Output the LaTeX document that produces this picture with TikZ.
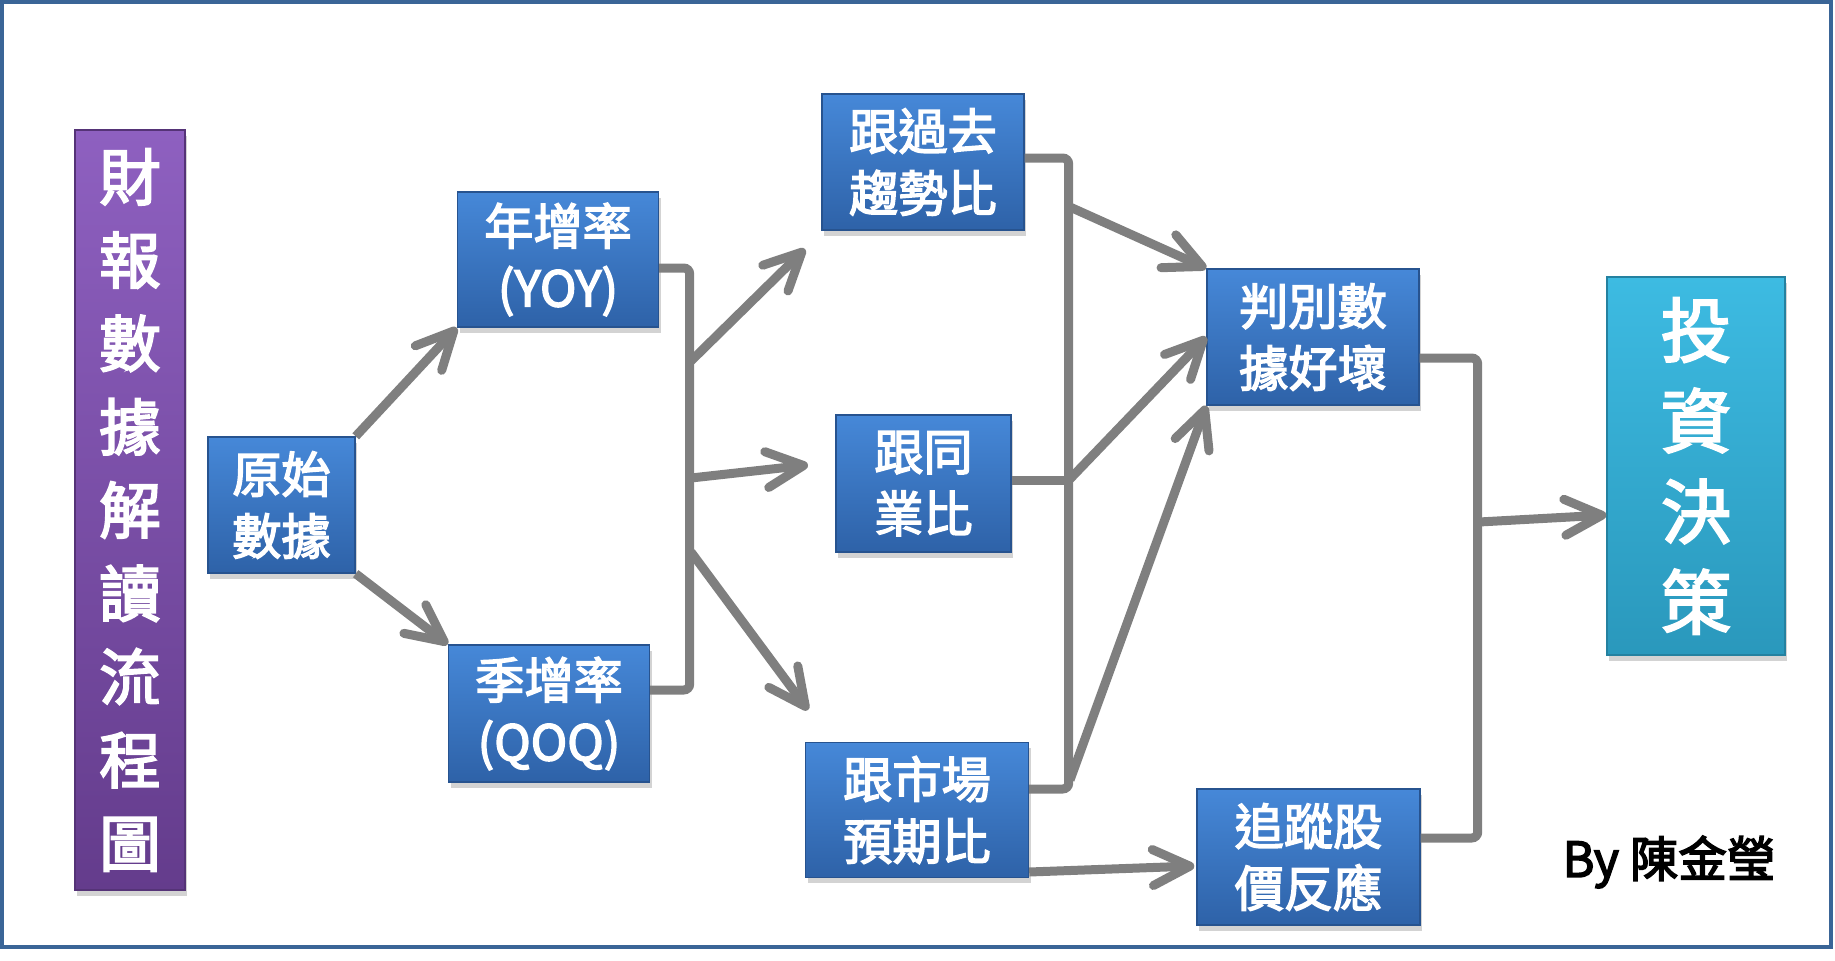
\documentclass[tikz,border=0pt]{standalone}
\usepackage{fontspec}
\newfontfamily\cjkfont[FakeBold=3]{Noto Sans CJK TC}
\usepackage{tikz}
\usetikzlibrary{arrows.meta,shadows}
\definecolor{framecol}{HTML}{3A6597}
\definecolor{linegray}{HTML}{7F7F7F}
\definecolor{bluetop}{HTML}{4688D8}
\definecolor{bluebot}{HTML}{2E62A8}
\definecolor{purptop}{HTML}{8E60C0}
\definecolor{purpbot}{HTML}{643C8C}
\definecolor{cyantop}{HTML}{3DBBE2}
\definecolor{cyanbot}{HTML}{2A98BC}

\begin{document}
\begin{tikzpicture}[
	box/.style={draw=bluebot!85!black, line width=0.4pt, top color=bluetop, bottom color=bluebot,
		text=white, align=center, inner sep=0pt,
		font=\cjkfont\fontsize{14}{17.6}\selectfont,
		drop shadow={shadow xshift=0.6pt, shadow yshift=-1.6pt, opacity=0.35}},
	conn/.style={draw=linegray, line width=0.09cm, rounded corners=0.06cm},
	arr/.style={conn, -{Straight Barb[length=0.37cm,width=0.36cm,round]}}]
	\useasboundingbox (0,0) rectangle (18.35,9.60);
	\draw[framecol, line width=0.045cm] (0.02,0.13) rectangle (18.31,9.58);
	
	\node[box, top color=purptop, bottom color=purpbot, draw=purpbot!85!black,
	minimum width=1.10cm, minimum height=7.60cm,
	font=\cjkfont\fontsize{17.5}{23.7}\selectfont] (title) at (1.30,4.50)
	{財\\報\\數\\據\\解\\讀\\流\\程\\圖};
	\node[box, minimum width=1.47cm, minimum height=1.36cm] (raw) at (2.815,4.55) {原始\\數據};
	\node[box, minimum width=2.01cm, minimum height=1.35cm] (yoy) at (5.58,7.005) {年增率\\(YOY)};
	\node[box, minimum width=2.01cm, minimum height=1.37cm] (qoq) at (5.49,2.465) {季增率\\(QOQ)};
	\node[box, minimum width=2.02cm, minimum height=1.36cm] (past) at (9.23,7.98) {跟過去\\趨勢比};
	\node[box, minimum width=1.75cm, minimum height=1.37cm] (peer) at (9.235,4.765) {跟同\\業比};
	\node[box, minimum width=2.23cm, minimum height=1.35cm] (market) at (9.17,1.50) {跟市場\\預期比};
	\node[box, minimum width=2.12cm, minimum height=1.36cm] (judge) at (13.13,6.23) {判別數\\據好壞};
	\node[box, minimum width=2.23cm, minimum height=1.36cm] (track) at (13.085,1.03) {追蹤股\\價反應};
	\node[box, top color=cyantop, bottom color=cyanbot, draw=cyanbot!85!black,
	minimum width=1.78cm, minimum height=3.78cm,
	font=\cjkfont\fontsize{20}{25.8}\selectfont] (decide) at (16.96,4.94)
	{投\\資\\決\\策};
	\node[font=\cjkfont\fontsize{13.8}{15}\selectfont] (author) at (16.69,0.98) {By 陳金瑩};
	
	\draw[arr] (raw.north east) -- (yoy.south west);
	\draw[arr] (raw.south east) -- (qoq.north west);
	
	% first bracket
	\draw[conn] ([yshift=-0.085cm]yoy.east) -- ++(0.305,0) |- ([yshift=0.235cm]qoq.east);
	\coordinate (s1) at (6.91,5.99); \coordinate (t1) at (8.05,7.11);
	\coordinate (s2) at (6.91,4.82); \coordinate (t2) at (8.08,4.95);
	\coordinate (s3) at (6.91,4.08); \coordinate (t3) at (8.08,2.50);
	\foreach \s/\t in {s1/t1,s2/t2,s3/t3}
	\draw[arr] (\s) -- (\t);
	
	% second bracket
	\draw[conn] ([yshift=0.04cm]past.east) -- ++(0.44,0) |- ([yshift=0.21cm]market.east);
	\draw[conn] ([yshift=0.035cm]peer.east) -- ++(0.57,0);
	\coordinate (u1) at (10.70,7.53);
	\coordinate (u2) at (10.70,4.81);
	\coordinate (u3) at (10.70,1.80);
	\foreach \s/\t in {u1/north west,u2/west,u3/south west}
	\draw[arr] (\s) -- (judge.\t);
	\draw[arr] ([yshift=-0.62cm]market.east) -- ([yshift=-0.09cm,xshift=-0.02cm]track.west);
	
	% third bracket
	\draw[conn] ([yshift=-0.21cm]judge.east) -- ++(0.58,0) |- ([yshift=0.19cm]track.east);
	\coordinate (v1) at (14.79,4.38);
	\draw[arr] (v1) -- ([yshift=-0.49cm]decide.west);
\end{tikzpicture}
\end{document}
